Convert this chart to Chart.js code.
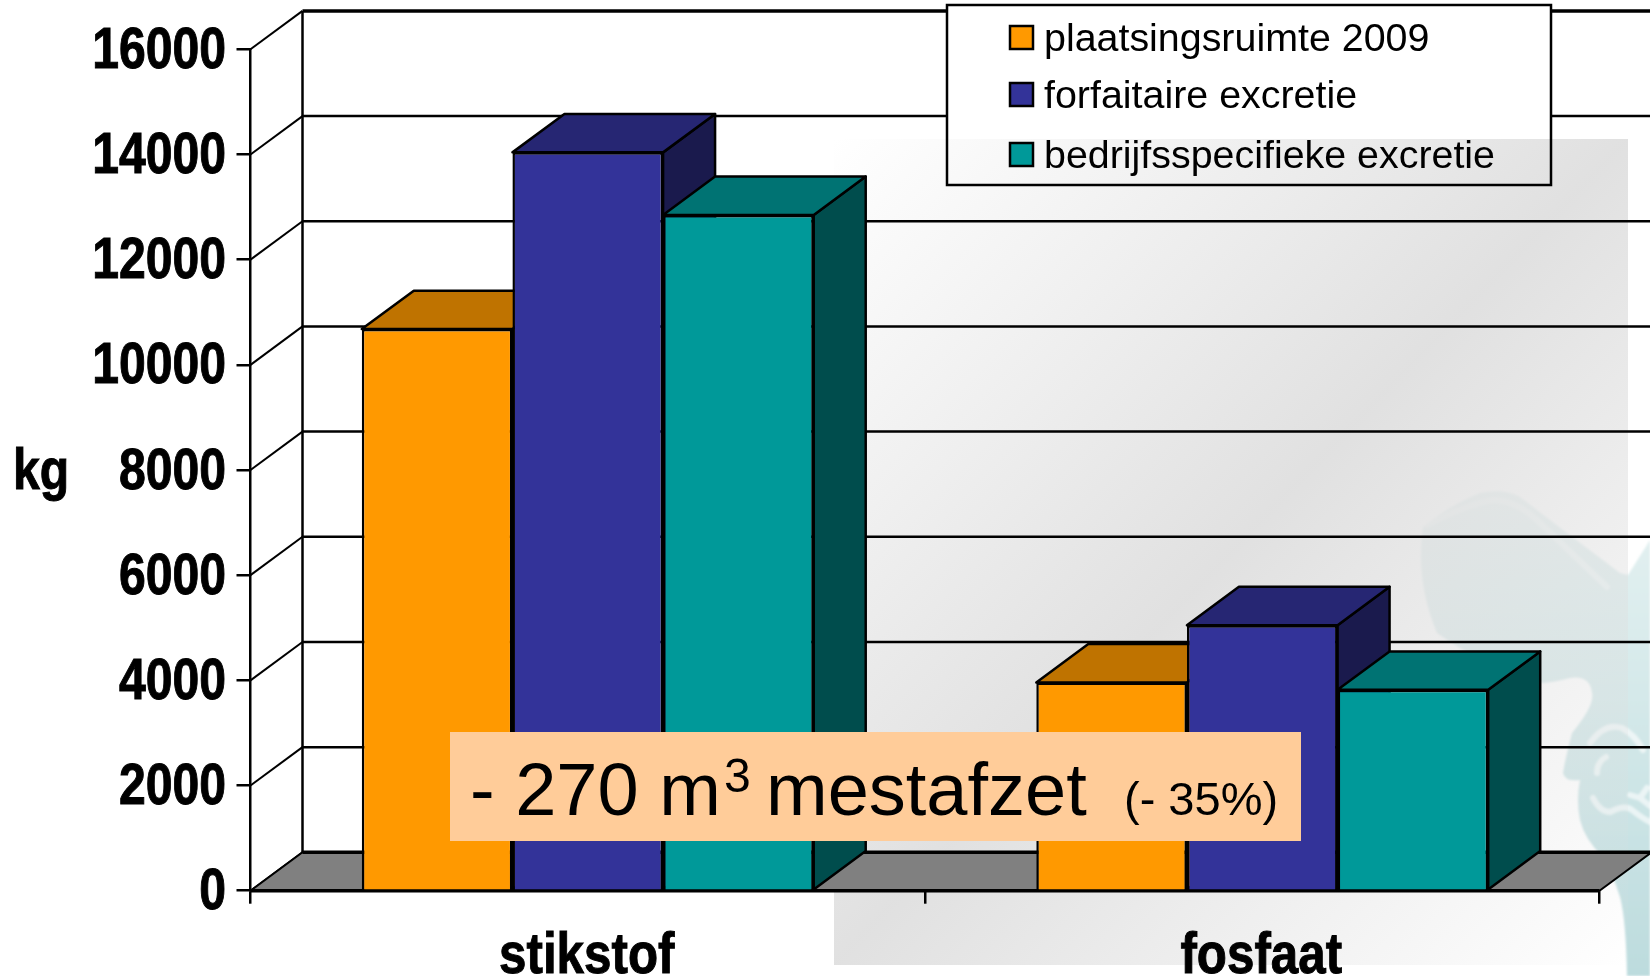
<!DOCTYPE html>
<html>
<head>
<meta charset="utf-8">
<title>mestafzet</title>
<script src="https://cdn.jsdelivr.net/npm/chart.js@4"></script>
<style>
  html, body { margin: 0; padding: 0; background: #fff; overflow: hidden; }
  #stage { position: relative; width: 1650px; height: 976px; }
  #mark, #panel, #barChart { position: absolute; }
  #mark { left: 0; top: 0; }
  #panel {
    left: 834px; top: 139px; width: 794px; height: 826px;
    background: linear-gradient(to bottom right, rgba(222,222,222,0), rgba(222,222,222,0.92) 50%, rgba(222,222,222,0));
  }
  #barChart { left: 0; top: 0; }
</style>
</head>
<body>
<div id="stage">
  <svg id="mark" width="1650" height="976">
    <defs>
      <linearGradient id="markFill" x1="0" y1="0" x2="0" y2="1">
        <stop offset="0" stop-color="#e6f2f2"/>
        <stop offset="1" stop-color="#bddcde"/>
      </linearGradient>
      <filter id="soft"><feGaussianBlur stdDeviation="1.2"/></filter>
    </defs>
    <g filter="url(#soft)">
      <path fill="url(#markFill)" d="M1437 633 Q1415 580 1423 527 Q1450 505 1480 493 Q1505 488 1520 497 L1567 533 L1620 573 L1628 575 L1650 540 L1650 976 L1627 976 Q1626 920 1620 897 Q1612 872 1603 857 Q1585 840 1580 820 Q1576 800 1580 780 Q1565 782 1563 773 Q1565 760 1572 733 Q1595 705 1592 693 Q1590 675 1570 678 Q1555 682 1543 683 Q1490 670 1437 633 Z"/>
      <g fill="none" stroke="#fff" stroke-opacity="0.6" stroke-width="6" stroke-linecap="round" stroke-linejoin="round">
        <path d="M1593 798 Q1600 812 1610 812 Q1625 804 1632 810 Q1642 818 1650 822"/>
        <path d="M1630 795 L1640 798 L1647 788 M1640 798 L1650 806"/>
        <path d="M1590 743 Q1605 722 1622 728 Q1635 735 1643 750"/>
        <path d="M1597 773 Q1597 762 1606 757"/>
        <path d="M1427 525 Q1465 505 1493 500 Q1515 500 1537 520 L1607 587" stroke-opacity="0.4"/>
      </g>
    </g>
  </svg>
  <div id="panel"></div>
  <canvas id="barChart" width="1650" height="976"></canvas>
</div>
<script>
// Data
const categories = ['stikstof', 'fosfaat'];
const seriesNames = ['plaatsingsruimte 2009', 'forfaitaire excretie', 'bedrijfsspecifieke excretie'];
const plaatsingsruimte = [10680, 3960];
const forfaitaire = [14040, 5050];
const bedrijfsspecifiek = [12850, 3820];
const yMax = 16000;
const yStep = 2000;

const frontColors = ['#FF9900', '#333399', '#009999'];
const topColors = ['#BF7300', '#262673', '#007373'];
const sideColors = ['#BF7300', '#1A1A4D', '#004D4D'];

const boldFont = 'bold 58px "Liberation Sans", sans-serif';
const depthX = 52;
const depthY = 38.4;

function fillFace(ctx, points, color) {
  ctx.beginPath();
  points.forEach((p, i) => (i ? ctx.lineTo(p[0], p[1]) : ctx.moveTo(p[0], p[1])));
  ctx.closePath();
  ctx.fillStyle = color;
  ctx.fill();
  ctx.stroke();
}

// the labels in the reference are bold but squeezed, no narrow font installed
function squeezedText(ctx, text, x, y, k) {
  ctx.save();
  ctx.translate(x, y);
  ctx.scale(k, 1);
  ctx.strokeStyle = '#000';
  ctx.lineWidth = 1;
  ctx.fillText(text, 0, 0);
  ctx.strokeText(text, 0, 0);
  ctx.restore();
}

// Back wall, floor and the top and side of each bar------------------
const depthPlugin = {
  id: 'depth',
  beforeDatasetsDraw(chart) {
    const ctx = chart.ctx;
    const { x, y } = chart.scales;
    const left = x.left;
    const right = x.right;
    const zero = y.getPixelForValue(0);
    ctx.save();
    ctx.strokeStyle = '#000';
    ctx.lineJoin = 'round';

    // wall lines
    y.ticks.forEach((tick) => {
      const py = y.getPixelForValue(tick.value);
      ctx.lineWidth = 2;
      ctx.beginPath();
      ctx.moveTo(left, py);
      ctx.lineTo(left + depthX, py - depthY);
      ctx.stroke();
      ctx.lineWidth = tick.value === yMax ? 3.5 : 2.5;
      ctx.beginPath();
      ctx.moveTo(left + depthX, py - depthY);
      ctx.lineTo(chart.width, py - depthY);
      ctx.stroke();
    });
    ctx.lineWidth = 2.5;
    ctx.beginPath();
    ctx.moveTo(left + depthX, y.getPixelForValue(yMax) - depthY);
    ctx.lineTo(left + depthX, zero - depthY);
    ctx.stroke();

    // floor
    ctx.lineWidth = 2;
    fillFace(ctx, [[left, zero], [left + depthX, zero - depthY], [right + depthX, zero - depthY], [right, zero]], '#808080');
    ctx.lineWidth = 3.5;
    ctx.beginPath();
    ctx.moveTo(left + depthX, zero - depthY);
    ctx.lineTo(chart.width, zero - depthY);
    ctx.moveTo(left, zero);
    ctx.lineTo(right, zero);
    ctx.stroke();

    // bar depth, series in order so each one lies over the one before
    ctx.lineWidth = 2.5;
    chart.data.datasets.forEach((ds, d) => {
      chart.getDatasetMeta(d).data.forEach((bar) => {
        const l = bar.x - bar.width / 2;
        const r = bar.x + bar.width / 2;
        fillFace(ctx, [[r, bar.y], [r + depthX, bar.y - depthY], [r + depthX, bar.base - depthY], [r, bar.base]], sideColors[d]);
        fillFace(ctx, [[l, bar.y], [l + depthX, bar.y - depthY], [r + depthX, bar.y - depthY], [r, bar.y]], topColors[d]);
      });
    });
    ctx.restore();
  },

  // Tick labels, legend, unit and the note over the bars-------------
  afterDraw(chart) {
    const ctx = chart.ctx;
    const { x, y } = chart.scales;
    ctx.save();
    ctx.textBaseline = 'alphabetic';
    ctx.fillStyle = '#000';
    ctx.font = boldFont;
    ctx.textAlign = 'right';
    y.ticks.forEach((tick) => {
      squeezedText(ctx, tick.label, 226, y.getPixelForValue(tick.value) + 18.5, 0.83);
    });
    ctx.textAlign = 'center';
    x.ticks.forEach((tick, i) => {
      squeezedText(ctx, tick.label, x.getPixelForTick(i) - 1, 973, 0.85);
    });
    ctx.textAlign = 'left';
    squeezedText(ctx, 'kg', 13, 489, 0.83);

    ctx.fillStyle = '#FFCC99';
    ctx.fillRect(450, 732, 851, 109);
    ctx.fillStyle = '#000';
    ctx.font = '74px "Liberation Sans", sans-serif';
    ctx.fillText('- 270 m', 470, 815);
    ctx.fillText('mestafzet', 766, 815);
    ctx.font = '48px "Liberation Sans", sans-serif';
    ctx.fillText('3', 724, 792);
    ctx.font = '47px "Liberation Sans", sans-serif';
    ctx.fillText('(- 35%)', 1124, 815);

    // legend box, the grey panel shows over its lower part
    ctx.fillStyle = '#fff';
    ctx.strokeStyle = '#000';
    ctx.lineWidth = 2.5;
    ctx.fillRect(947, 5, 604, 180);
    const pw = 794, ph = 826, px = 834, py = 139;
    const len = Math.hypot(pw, ph);
    const ex = ph * pw * ph / (len * len);
    const ey = ph * pw * pw / (len * len);
    const sheen = ctx.createLinearGradient(px + pw / 2 - ex, py + ph / 2 - ey, px + pw / 2 + ex, py + ph / 2 + ey);
    sheen.addColorStop(0, 'rgba(222,222,222,0)');
    sheen.addColorStop(0.5, 'rgba(222,222,222,0.92)');
    sheen.addColorStop(1, 'rgba(222,222,222,0)');
    ctx.fillStyle = sheen;
    ctx.fillRect(947, py, 604, 185 - py);
    ctx.strokeRect(947, 5, 604, 180);

    const rowTop = [26, 83, 143];
    const rowBase = [51, 108, 168];
    ctx.font = '39.4px "Liberation Sans", sans-serif';
    chart.data.datasets.forEach((ds, d) => {
      ctx.fillStyle = frontColors[d];
      ctx.fillRect(1010, rowTop[d], 23, 23);
      ctx.strokeRect(1010, rowTop[d], 23, 23);
      ctx.fillStyle = '#000';
      ctx.fillText(ds.label, 1044, rowBase[d]);
    });
    ctx.restore();
  }
};

// Chart---------------------------------
const barChartCanvas = document.getElementById('barChart').getContext('2d');
new Chart(barChartCanvas, {
  type: 'bar',
  data: {
    labels: categories,
    datasets: [plaatsingsruimte, forfaitaire, bedrijfsspecifiek].map((values, i) => ({
      label: seriesNames[i],
      data: values,
      backgroundColor: frontColors[i],
      borderColor: '#000',
      borderWidth: 2.5,
      barPercentage: 1,
      categoryPercentage: 0.67
    }))
  },
  options: {
    responsive: false,
    animation: false,
    layout: { padding: { top: 49.3, right: 50.5, left: 0, bottom: 0 } },
    plugins: {
      legend: { display: false },
      tooltip: { enabled: false }
    },
    scales: {
      x: {
        afterFit: (scale) => { scale.height = 976 - 890.7; },
        grid: { drawOnChartArea: false, color: '#000', lineWidth: 2.5, tickLength: 13 },
        border: { color: '#000', width: 2.5 },
        ticks: { display: false }
      },
      y: {
        min: 0,
        max: yMax,
        afterFit: (scale) => { scale.width = 250.5; },
        grid: { drawOnChartArea: false, color: '#000', lineWidth: 2.5, tickLength: 14 },
        border: { color: '#000', width: 2.5 },
        ticks: { display: false, stepSize: yStep, callback: (value) => String(value) }
      }
    }
  },
  plugins: [depthPlugin]
});
</script>
</body>
</html>
